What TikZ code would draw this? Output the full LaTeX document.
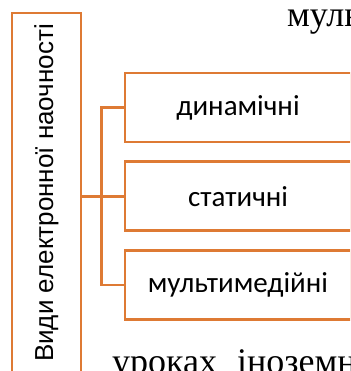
\documentclass[tikz,border=0pt]{standalone}
\usepackage{fontspec}
\setmainfont{Liberation Serif}
\newfontfamily\boxfont{Carlito}
\newfontfamily\sidefont{Liberation Sans}
\usepackage{tikz}
\usetikzlibrary{positioning}
\definecolor{frame}{RGB}{222,122,52}
\tikzset{kind/.style={draw=frame,line width=2.8pt,minimum width=226pt,minimum height=69pt,
    inner sep=0pt,font=\boxfont\fontsize{29}{33}\selectfont},
  link/.style={draw=frame,line width=2.8pt}}

\begin{document}
\begin{tikzpicture}[x=1pt,y=1pt]
  \useasboundingbox (0,0) rectangle (350,371);
  \clip (0,0) rectangle (350,371);

  % page text around the figure
  \node[anchor=base west,inner sep=0pt,font=\fontsize{36}{42}\selectfont] (txt-top) at (287,344) {мультимедійні};
  \node[anchor=base west,inner sep=0pt,font=\fontsize{36}{42}\selectfont] (txt-bot) at (112,-2) {уроках\hspace{20pt}іноземних};

  \node[draw=frame,line width=2.8pt,rotate=90,minimum width=360pt,minimum height=69pt,inner sep=0pt,
    font=\sidefont\fontsize{26}{30}\selectfont] (side) at (46.5,178) {Види електронної наочності};

  \node[kind] (b-1) at (238,263.5) {динамічні};
  \node[kind,below=17pt of b-1] (b-2) {статичні};
  \node[kind,below=17pt of b-2] (b-3) {мультимедійні};

  \draw[link] (b-2.west) -- (b-2.west -| side.south);
  \draw[link] (b-1.west) -- ++(-22,0) |- (b-3.west);
\end{tikzpicture}
\end{document}
